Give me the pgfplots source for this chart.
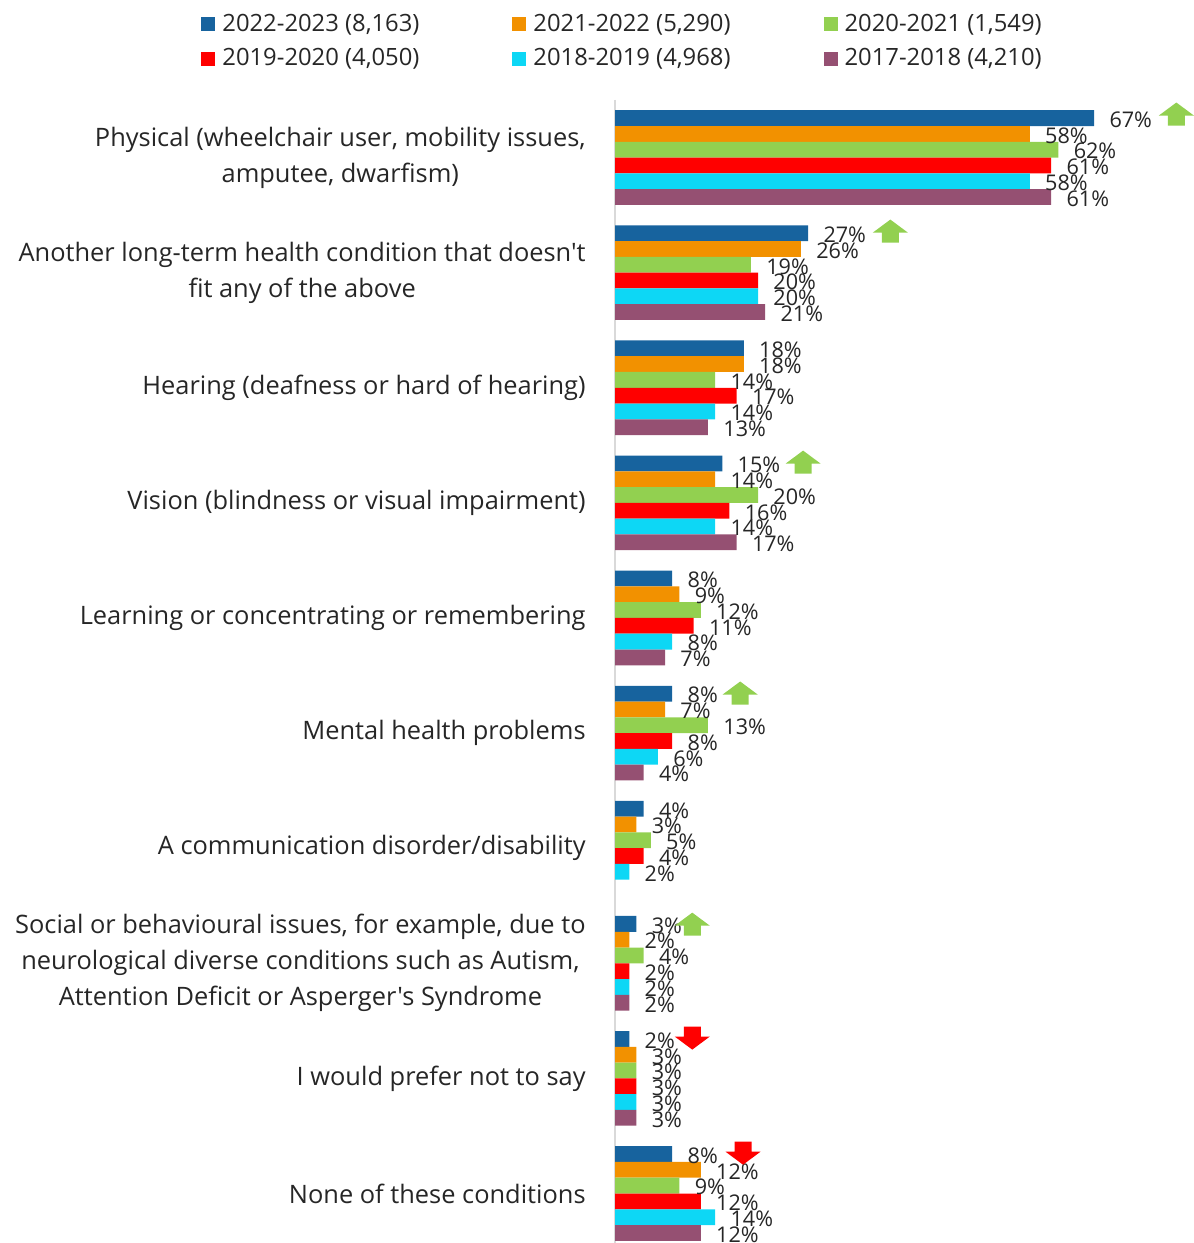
\documentclass[border=0pt]{standalone}
\usepackage{pgfplots}
\pgfplotsset{compat=1.18}
\usepackage{fontspec}
\setmainfont{Open Sans}[Ligatures=TeXOff]
\definecolor{cA}{HTML}{17639E}
\definecolor{cB}{HTML}{F29100}
\definecolor{cC}{HTML}{92D050}
\definecolor{cD}{HTML}{FF0000}
\definecolor{cE}{HTML}{0DD7F5}
\definecolor{cF}{HTML}{955072}
\definecolor{txt}{HTML}{262626}
\begin{document}
\begin{tikzpicture}
\begin{axis}[
  at={(0,0)}, anchor=south west,
  scale only axis, width=286pt, height=572.6pt,
  xbar, bar width=0.137,
  xmin=0, xmax=80,
  ymin=-0.5, ymax=9.45, y dir=reverse,
  axis x line=none, axis y line*=left,
  y axis line style={draw=black!15, line width=1pt, -},
  major tick length=0pt,
  ytick={0,...,9},
  yticklabels={
    {Physical (wheelchair user, mobility issues,\\amputee, dwarfism)},
    {Another long-term health condition that doesn't\\fit any of the above},
    {Hearing (deafness or hard of hearing)},
    {Vision (blindness or visual impairment)},
    {Learning or concentrating or remembering},
    {Mental health problems},
    {A communication disorder/disability},
    {Social or behavioural issues, for example, due to\\neurological diverse conditions such as Autism,\\Attention Deficit or Asperger's Syndrome},
    {I would prefer not to say},
    {None of these conditions}},
  yticklabel style={align=center, font=\fontsize{12.7}{18}\selectfont, text=txt, inner sep=0pt, xshift=-14.5pt},
  point meta=x,
  nodes near coords={\pgfmathprintnumber[assume math mode=true]{\pgfplotspointmeta}\%},
  every node near coord/.append style={anchor=west, inner sep=0pt, xshift=7.5pt, yshift=-0.8pt, font=\fontsize{10.8}{12}\selectfont, text=txt},
  legend columns=3,
  legend style={at={(-0.7238,1.0752)}, anchor=north west, draw=none, inner sep=0pt, fill=none,
    font=\fontsize{11.9}{14}\selectfont, text=txt,
    nodes={inner sep=0pt},
    /tikz/row sep=7pt,
    /tikz/every odd column/.append style={column sep=3.5pt},
    /tikz/every even column/.append style={column sep=46.5pt}},
  legend cell align=left,
  legend image code/.code={\fill[#1] (0pt,-3.5pt) rectangle (7pt,3.5pt);},
]
\addplot[fill=cA, draw=none, bar shift=-0.3425] coordinates {(67,0) (27,1) (18,2) (15,3) (8,4) (8,5) (4,6) (3,7) (2,8) (8,9)};
\addplot[fill=cB, draw=none, bar shift=-0.2055] coordinates {(58,0) (26,1) (18,2) (14,3) (9,4) (7,5) (3,6) (2,7) (3,8) (12,9)};
\addplot[fill=cC, draw=none, bar shift=-0.0685] coordinates {(62,0) (19,1) (14,2) (20,3) (12,4) (13,5) (5,6) (4,7) (3,8) (9,9)};
\addplot[fill=cD, draw=none, bar shift=0.0685] coordinates {(61,0) (20,1) (17,2) (16,3) (11,4) (8,5) (4,6) (2,7) (3,8) (12,9)};
\addplot[fill=cE, draw=none, bar shift=0.2055] coordinates {(58,0) (20,1) (14,2) (14,3) (8,4) (6,5) (2,6) (2,7) (3,8) (14,9)};
\addplot[fill=cF, draw=none, bar shift=0.3425] coordinates {(61,0) (21,1) (13,2) (17,3) (7,4) (4,5) (2,7) (3,8) (12,9)};
\legend{{2022-2023 (8,163)}, {2021-2022 (5,290)}, {2020-2021 (1,549)}, {2019-2020 (4,050)}, {2018-2019 (4,968)}, {2017-2018 (4,210)}}
\coordinate (u1) at (axis cs:78.5,-0.378);
\coordinate (u2) at (axis cs:38.5,0.639);
\coordinate (u3) at (axis cs:26.3,2.646);
\coordinate (u4) at (axis cs:17.5,4.652);
\coordinate (u5) at (axis cs:10.8,6.66);
\coordinate (d1) at (axis cs:10.8,7.65);
\coordinate (d2) at (axis cs:17.9,8.65);
\end{axis}
\foreach \p in {u1,u2,u3,u4,u5}{
  \fill[cC, shift={(\p)}] (0,5.75pt) -- (8.75pt,-0.75pt) -- (4.25pt,-0.75pt) -- (4.25pt,-5.75pt) -- (-4.25pt,-5.75pt) -- (-4.25pt,-0.75pt) -- (-8.75pt,-0.75pt) -- cycle;
}
\foreach \p in {d1,d2}{
  \fill[cD, shift={(\p)}] (0,-5.75pt) -- (8.75pt,0.75pt) -- (4.25pt,0.75pt) -- (4.25pt,5.75pt) -- (-4.25pt,5.75pt) -- (-4.25pt,0.75pt) -- (-8.75pt,0.75pt) -- cycle;
}
\pgfresetboundingbox
\path[use as bounding box] (-307.5pt,1.15pt) rectangle (289pt,622.6pt);
\end{tikzpicture}
\end{document}
